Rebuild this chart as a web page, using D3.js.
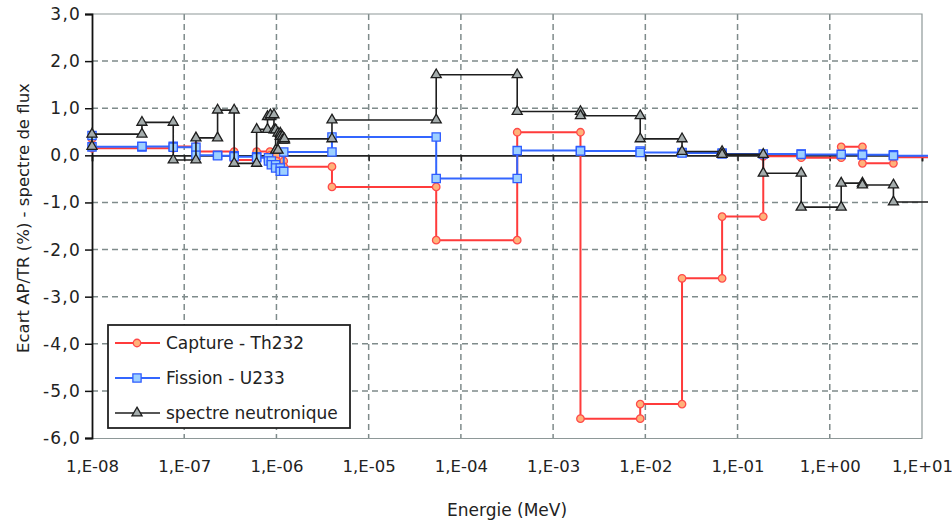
<!DOCTYPE html>
<html><head><meta charset="utf-8">
<script src="https://cdn.jsdelivr.net/npm/d3@7"></script>
<style>body{margin:0;background:#fff}</style></head>
<body><svg id="c" width="952" height="522"></svg>
<script>
// ---- data ----
const xTicks = [1e-8,1e-7,1e-6,1e-5,1e-4,1e-3,1e-2,1e-1,1e0,1e1];
const xTickLabels = ["1,E-08","1,E-07","1,E-06","1,E-05","1,E-04","1,E-03","1,E-02","1,E-01","1,E+00","1,E+01"];
const yTicks = [3,2,1,0,-1,-2,-3,-4,-5,-6];
const seriesNames = ["Capture - Th232","Fission - U233","spectre neutronique"];

const captureTh232 = [
 [1e-8,0.35],[1e-8,0.15],[7.6e-8,0.15],[7.6e-8,0.19],[1.34e-7,0.19],[1.34e-7,0.08],[3.48e-7,0.08],[3.48e-7,-0.1],
 [6.1e-7,-0.1],[6.1e-7,0.08],[8.5e-7,0.08],[8.5e-7,0.0],[1.0e-6,0.0],[1.0e-6,-0.12],[1.2e-6,-0.12],[1.2e-6,-0.24],
 [4e-6,-0.24],[4e-6,-0.67],[5.4e-5,-0.67],[5.4e-5,-1.8],[4.08e-4,-1.8],[4.08e-4,0.49],[1.98e-3,0.49],[1.98e-3,-5.59],
 [8.8e-3,-5.59],[8.8e-3,-5.28],[2.5e-2,-5.28],[2.5e-2,-2.61],[6.8e-2,-2.61],[6.8e-2,-1.3],[0.19,-1.3],[0.19,-0.02],
 [0.49,-0.02],[0.49,-0.05],[1.33,-0.05],[1.33,0.18],[2.26,0.18],[2.26,-0.17],[4.9,-0.17],[4.9,-0.04],[20,-0.04]
];
const fissionU233 = [
 [1e-8,0.42],[1e-8,0.18],[3.48e-8,0.18],[3.48e-8,0.19],[7.6e-8,0.19],[7.6e-8,0.17],[1.34e-7,0.17],[1.34e-7,0.0],
 [2.3e-7,0.0],[2.3e-7,-0.01],[3.48e-7,-0.01],[3.48e-7,-0.03],[6.1e-7,-0.03],[6.1e-7,-0.05],[8.2e-7,-0.05],[8.2e-7,-0.12],
 [8.8e-7,-0.12],[8.8e-7,-0.2],[9.8e-7,-0.2],[9.8e-7,-0.27],[1.1e-6,-0.27],[1.1e-6,-0.34],[1.2e-6,-0.34],[1.2e-6,0.07],
 [4e-6,0.07],[4e-6,0.39],[5.4e-5,0.39],[5.4e-5,-0.49],[4.08e-4,-0.49],[4.08e-4,0.1],[1.98e-3,0.1],[1.98e-3,0.09],
 [8.8e-3,0.09],[8.8e-3,0.06],[2.5e-2,0.06],[2.5e-2,0.05],[6.8e-2,0.05],[6.8e-2,0.03],[0.19,0.03],[0.49,0.03],
 [0.49,0.02],[1.33,0.02],[2.26,0.02],[2.26,0.01],[4.9,0.01],[4.9,-0.01],[20,-0.01]
];
const spectreNeutronique = [
 [1e-8,0.19],[1e-8,0.45],[3.48e-8,0.45],[3.48e-8,0.7],[7.6e-8,0.7],[7.6e-8,-0.1],[1.34e-7,-0.1],[1.34e-7,0.37],
 [2.3e-7,0.37],[2.3e-7,0.96],[3.48e-7,0.96],[3.48e-7,-0.17],[6.1e-7,-0.17],[6.1e-7,0.55],[8.0e-7,0.55],[8.0e-7,0.82],
 [8.6e-7,0.82],[8.6e-7,0.86],[9.4e-7,0.86],[9.4e-7,0.54],[9.8e-7,0.54],[9.8e-7,0.11],[1.04e-6,0.11],[1.04e-6,0.47],
 [1.1e-6,0.47],[1.1e-6,0.4],[1.16e-6,0.4],[1.16e-6,0.32],[1.22e-6,0.32],[1.22e-6,0.35],[4e-6,0.35],[4e-6,0.75],
 [5.4e-5,0.75],[5.4e-5,1.71],[4.08e-4,1.71],[4.08e-4,0.93],[1.98e-3,0.93],[1.98e-3,0.84],[8.8e-3,0.84],[8.8e-3,0.35],
 [2.5e-2,0.35],[2.5e-2,0.08],[6.8e-2,0.08],[6.8e-2,0.02],[0.19,0.02],[0.19,-0.38],[0.49,-0.38],[0.49,-1.1],
 [1.33,-1.1],[1.33,-0.59],[2.26,-0.59],[2.26,-0.63],[4.9,-0.63],[4.9,-0.99],[20,-0.99]
];

// ---- layout ----
const m = {l:92, r:922, t:14, b:438};
const svg = d3.select("#c");
svg.append("rect").attr("width",952).attr("height",522).attr("fill","#fff");
const x = d3.scaleLog().domain([1e-8,1e1]).range([m.l,m.r]);
const y = d3.scaleLinear().domain([-6,3]).range([m.b,m.t]);
const FONT = "'DejaVu Sans', Verdana, sans-serif";

// grid
const grid = svg.append("g");
grid.selectAll("line.v").data(xTicks.slice(1,-1)).join("line")
  .attr("x1",d=>x(d)).attr("x2",d=>x(d)).attr("y1",m.t).attr("y2",m.b)
  .attr("stroke","#7f8b8b").attr("stroke-width",1.5).attr("stroke-dasharray","6,4");
grid.selectAll("line.h").data(yTicks.filter(d=>d!==3&&d!==0&&d!==-6)).join("line")
  .attr("x1",m.l).attr("x2",m.r).attr("y1",d=>y(d)).attr("y2",d=>y(d))
  .attr("stroke","#7f8b8b").attr("stroke-width",1.5).attr("stroke-dasharray","6,4");
// border top/right
svg.append("path").attr("d",`M${m.l},${m.t}H${m.r}V${m.b}`).attr("fill","none")
  .attr("stroke","#8e9898").attr("stroke-width",1.2);

// bottom axis (labels)
const xb = svg.append("g").attr("transform",`translate(0,${m.b})`)
  .call(d3.axisBottom(x).tickValues(xTicks).tickSize(0).tickPadding(22).tickFormat((d,i)=>xTickLabels[i]));
xb.select(".domain").attr("stroke","#8e9898").attr("stroke-width",1.2);
xb.selectAll("text").attr("font-family",FONT).attr("font-size",16.5).attr("fill","#222");

// zero axis
const xz = svg.append("g").attr("transform",`translate(0,${y(0)})`)
  .call(d3.axisBottom(x).tickValues(xTicks).tickSize(6).tickFormat(""));
xz.select(".domain").attr("stroke","#222").attr("stroke-width",1.6);
xz.selectAll(".tick line").attr("stroke","#222").attr("stroke-width",1.5);

// y axis
const ya = svg.append("g").attr("transform",`translate(${m.l},0)`)
  .call(d3.axisLeft(y).tickValues(yTicks).tickSize(7).tickPadding(4)
  .tickFormat(d=>d.toFixed(1).replace(".",",")));
ya.select(".domain").attr("stroke","#111").attr("stroke-width",1.8);
ya.selectAll(".tick line").attr("stroke","#111").attr("stroke-width",1.5);
ya.selectAll("text").attr("font-family",FONT).attr("font-size",17).attr("fill","#222").attr("letter-spacing",1.2);

// titles
svg.append("text").attr("x",507).attr("y",516).attr("text-anchor","middle")
  .attr("font-family",FONT).attr("font-size",17).attr("fill","#222").text("Energie (MeV)");
svg.append("text").attr("transform","translate(29,218) rotate(-90)").attr("text-anchor","middle")
  .attr("font-family",FONT).attr("font-size",16.5).attr("fill","#222").text("Ecart AP/TR (%) - spectre de flux");

// series
svg.append("clipPath").attr("id","clip").append("rect")
  .attr("x",m.l-8).attr("y",m.t-8).attr("width",m.r-m.l+14).attr("height",m.b-m.t+16);
const plot = svg.append("g").attr("clip-path","url(#clip)");
const line = d3.line().x(d=>x(d[0])).y(d=>y(d[1]));
const styles = [
  {data:captureTh232, stroke:"#ff3b3b", w:2, sym:d3.symbolCircle, size:44, fill:"#ffb27a", mstroke:"#ff4a4a"},
  {data:fissionU233, stroke:"#3366ff", w:2, sym:d3.symbolSquare, size:68, fill:"#9dd0ff", mstroke:"#2f5cff"},
  {data:spectreNeutronique, stroke:"#1e1e1e", w:1.6, sym:d3.symbolTriangle, size:44, fill:"#a4acac", mstroke:"#1e1e1e"}
];
styles.forEach(s=>{
  plot.append("path").attr("d",line(s.data)).attr("fill","none")
    .attr("stroke",s.stroke).attr("stroke-width",s.w).attr("stroke-linejoin","miter");
  plot.selectAll(null).data(s.data).join("path")
    .attr("transform",d=>`translate(${x(d[0])},${y(d[1])})`)
    .attr("d",d3.symbol().type(s.sym).size(s.size)())
    .attr("fill",s.fill).attr("stroke",s.mstroke).attr("stroke-width",1.3);
});

// legend
const lg = svg.append("g");
lg.append("rect").attr("x",108).attr("y",325).attr("width",242).attr("height",103)
  .attr("fill","#fff").attr("stroke","#222").attr("stroke-width",1.8);
styles.forEach((s,i)=>{
  const yy = 343 + i*35;
  lg.append("line").attr("x1",115).attr("x2",160).attr("y1",yy).attr("y2",yy)
    .attr("stroke",s.stroke).attr("stroke-width",s.w);
  lg.append("path").attr("transform",`translate(137,${yy})`)
    .attr("d",d3.symbol().type(s.sym).size(s.size)())
    .attr("fill",s.fill).attr("stroke",s.mstroke).attr("stroke-width",1.3);
  lg.append("text").attr("x",166).attr("y",yy).attr("dy","0.35em")
    .attr("font-family",FONT).attr("font-size",17).attr("fill","#222").text(seriesNames[i]);
});
</script></body></html>
